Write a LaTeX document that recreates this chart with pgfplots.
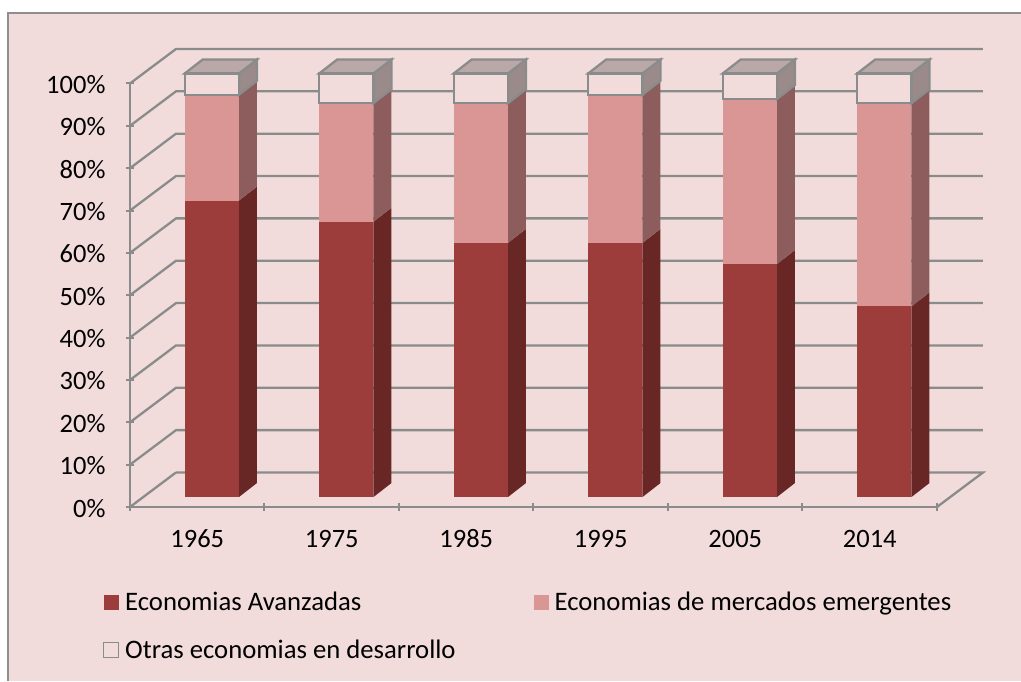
\documentclass[border=0pt]{standalone}
\usepackage{pgfplots}
\pgfplotsset{compat=1.18}
\usepackage{fontspec}
\setmainfont{Carlito}
\definecolor{bgp}{HTML}{F2DCDB}
\definecolor{gridg}{HTML}{8A8C8B}
\definecolor{framg}{HTML}{8E8E8E}
\definecolor{aF}{HTML}{9C3D3B}
\definecolor{aS}{HTML}{682625}
\definecolor{eF}{HTML}{D99694}
\definecolor{eS}{HTML}{8C5D5C}
\definecolor{oT}{HTML}{B9A8A7}
\definecolor{oS}{HTML}{9A8B8A}
% one stacked segment: k, lower %, upper %, front colour, side colour
\newcommand\seg[5]{%
  \pgfmathsetmacro\xa{#1+0.4067}\pgfmathsetmacro\xb{#1+0.8104}\pgfmathsetmacro\xc{#1+0.9442}%
  \pgfmathsetmacro\ya{#2+2.36}\pgfmathsetmacro\yb{#3+2.36}%
  \pgfmathsetmacro\yc{#2+5.66}\pgfmathsetmacro\yd{#3+5.66}%
  \addplot[forget plot,fill=#5,draw=none] coordinates {(\xb,\ya)(\xc,\yc)(\xc,\yd)(\xb,\yb)} --cycle;
  \addplot[forget plot,fill=#4,draw=none] coordinates {(\xa,\ya)(\xb,\ya)(\xb,\yb)(\xa,\yb)} --cycle;
}
% top segment with outline and top face
\newcommand\topseg[3]{%
  \pgfmathsetmacro\xa{#1+0.4067}\pgfmathsetmacro\xb{#1+0.8104}\pgfmathsetmacro\xc{#1+0.9442}%
  \pgfmathsetmacro\xd{#1+0.5405}%
  \pgfmathsetmacro\ya{#2+2.36}\pgfmathsetmacro\yb{#3+2.36}%
  \pgfmathsetmacro\yc{#2+5.66}\pgfmathsetmacro\yd{#3+5.66}%
  \addplot[forget plot,fill=oS,draw=gridg,line width=2.3pt] coordinates {(\xb,\ya)(\xc,\yc)(\xc,\yd)(\xb,\yb)} --cycle;
  \addplot[forget plot,fill=oT,draw=gridg,line width=2.3pt] coordinates {(\xa,\yb)(\xb,\yb)(\xc,\yd)(\xd,\yd)} --cycle;
  \addplot[forget plot,fill=bgp,draw=gridg,line width=2.3pt] coordinates {(\xa,\ya)(\xb,\ya)(\xb,\yb)(\xa,\yb)} --cycle;
}
\begin{document}
\begin{tikzpicture}[x=1pt,y=1pt]
\path[use as bounding box] (0,0) rectangle (1021,681);
\fill[white] (0,0) rectangle (1021,681);
\fill[bgp] (8,0) rectangle (1021,668);
\draw[framg,line width=2pt] (8,0) -- (8,668) -- (1021,668);
\begin{axis}[
  at={(130pt,174pt)},anchor=south west,
  scale only axis,width=807pt,height=423.5pt,
  xmin=0,xmax=6,ymin=0,ymax=100,clip=false,
  axis lines=left,axis line style={gridg,line width=2.3pt,-},
  tick style={gridg,line width=2pt},
  major tick length=8pt,
  xtick={0,1,2,3,4,5,6},
  x tick label as interval,
  xticklabels={1965,1975,1985,1995,2005,2014},
  ytick={0,10,20,30,40,50,60,70,80,90,100},
  yticklabels={0\%,10\%,20\%,30\%,40\%,50\%,60\%,70\%,80\%,90\%,100\%},
  tick label style={font=\fontsize{26.5}{26.5}\selectfont,text=black,text height=17pt,text depth=0pt},
  xticklabel style={yshift=-16pt},
  yticklabel style={xshift=-17pt,yshift=-1.5pt},
  legend style={at={(-0.0335,-0.196)},anchor=north west,draw=none,fill=none,
    inner sep=0pt,font=\fontsize{26.7}{26.7}\selectfont,legend cell align=left,
    /tikz/every odd column/.style={column sep=4pt},
    /tikz/every even column/.style={column sep=76pt},row sep=24pt},
  legend columns=2,
  legend image code/.code={\path[#1] (0pt,-7.5pt) rectangle (15pt,7.5pt);},
]
% back wall
\addplot[forget plot,gridg,line width=2.3pt] coordinates {(0.342,8.15)(6.342,8.15)(6,0)};
\addplot[forget plot,gridg,line width=2.3pt] coordinates {(0,0)(0.342,8.15)};
\addplot[forget plot,gridg,line width=2.3pt] coordinates {(0,10)(0.342,18.15)(6.342,18.15)};
\addplot[forget plot,gridg,line width=2.3pt] coordinates {(0,20)(0.342,28.15)(6.342,28.15)};
\addplot[forget plot,gridg,line width=2.3pt] coordinates {(0,30)(0.342,38.15)(6.342,38.15)};
\addplot[forget plot,gridg,line width=2.3pt] coordinates {(0,40)(0.342,48.15)(6.342,48.15)};
\addplot[forget plot,gridg,line width=2.3pt] coordinates {(0,50)(0.342,58.15)(6.342,58.15)};
\addplot[forget plot,gridg,line width=2.3pt] coordinates {(0,60)(0.342,68.15)(6.342,68.15)};
\addplot[forget plot,gridg,line width=2.3pt] coordinates {(0,70)(0.342,78.15)(6.342,78.15)};
\addplot[forget plot,gridg,line width=2.3pt] coordinates {(0,80)(0.342,88.15)(6.342,88.15)};
\addplot[forget plot,gridg,line width=2.3pt] coordinates {(0,90)(0.342,98.15)(6.342,98.15)};
\addplot[forget plot,gridg,line width=2.3pt] coordinates {(0,100)(0.342,108.15)(6.342,108.15)};
% bars: Avanzadas, Emergentes, Otras
\seg{0}{0}{70}{aF}{aS}\seg{0}{70}{95}{eF}{eS}\topseg{0}{95}{100}
\seg{1}{0}{65}{aF}{aS}\seg{1}{65}{93}{eF}{eS}\topseg{1}{93}{100}
\seg{2}{0}{60}{aF}{aS}\seg{2}{60}{93}{eF}{eS}\topseg{2}{93}{100}
\seg{3}{0}{60}{aF}{aS}\seg{3}{60}{95}{eF}{eS}\topseg{3}{95}{100}
\seg{4}{0}{55}{aF}{aS}\seg{4}{55}{94}{eF}{eS}\topseg{4}{94}{100}
\seg{5}{0}{45}{aF}{aS}\seg{5}{45}{93}{eF}{eS}\topseg{5}{93}{100}
\addlegendimage{fill=aF,draw=none}\addlegendentry{Economias Avanzadas}
\addlegendimage{fill=eF,draw=none}\addlegendentry{Economias de mercados emergentes}
\addlegendimage{fill=bgp,draw=gridg,line width=1pt}\addlegendentry{Otras economias en desarrollo}
\end{axis}
\end{tikzpicture}
\end{document}
